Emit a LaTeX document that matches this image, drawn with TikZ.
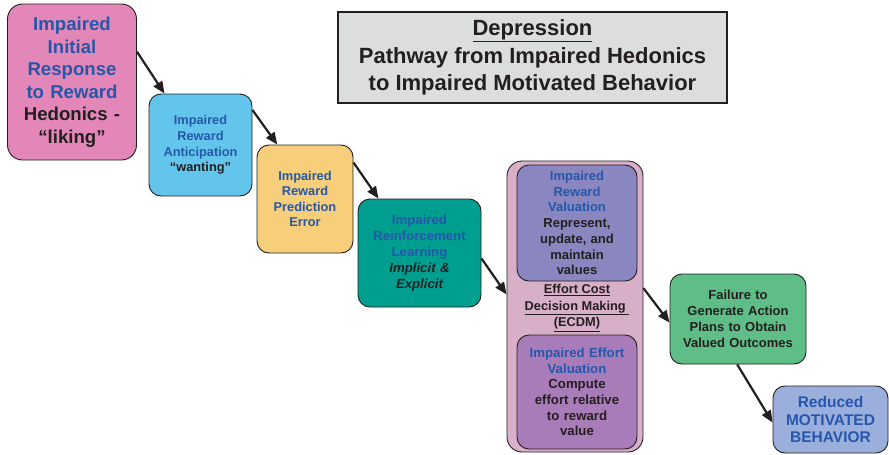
\documentclass[tikz,border=0pt]{standalone}
\usepackage{fontspec}
\setmainfont{Liberation Sans}
\usetikzlibrary{arrows.meta}

\definecolor{pinkbox}{RGB}{226,135,184}
\definecolor{skybox}{RGB}{100,197,236}
\definecolor{sandbox}{RGB}{247,206,122}
\definecolor{tealbox}{RGB}{0,158,143}
\definecolor{mauvebox}{RGB}{216,175,200}
\definecolor{lavbox}{RGB}{137,134,192}
\definecolor{plumbox}{RGB}{168,124,184}
\definecolor{greenbox}{RGB}{95,190,135}
\definecolor{periwinkle}{RGB}{155,175,220}
\definecolor{titlegray}{RGB}{220,221,222}
\definecolor{textblue}{RGB}{38,87,170}
\definecolor{darkline}{RGB}{35,31,32}

\begin{document}
\begin{tikzpicture}[x=1pt,y=-1pt,
  box/.style={draw=darkline, line width=0.9pt, rounded corners=12pt, align=center, inner sep=0pt, text=darkline},
  link/.style={draw=darkline, line width=2.2pt, -{Triangle[length=12pt,width=10pt]}}]
\useasboundingbox (0,0) rectangle (889,455);

% Nodes
\node[box, fill=pinkbox, rounded corners=15pt, minimum width=129pt, minimum height=156pt, text width=125pt,
  font=\bfseries\fontsize{18.6}{22.5}\selectfont] (hedonic) at (72,82)
  {\color{textblue}Impaired\\Initial\\Response\\to Reward\\\color{darkline}Hedonics -\\“liking”};
\node[box, fill=skybox, minimum width=103pt, minimum height=102pt, text width=99pt,
  font=\bfseries\fontsize{12.8}{15.7}\selectfont] (anticip) at (200.5,145)
  {\color{textblue}Impaired\\Reward\\Anticipation\\\color{darkline}“wanting”};
\node[box, fill=sandbox, minimum width=96pt, minimum height=108pt, text width=92pt,
  font=\bfseries\fontsize{12.8}{15.6}\selectfont] (predict) at (305,199)
  {\color{textblue}Impaired\\Reward\\Prediction\\Error};
\node[box, fill=tealbox, minimum width=123pt, minimum height=108pt, text width=119pt,
  font=\bfseries\fontsize{13.2}{15.8}\selectfont] (learn) at (419.5,253)
  {\color{textblue}Impaired\\Reinforcement\\Learning\\\color{darkline}\itshape Implicit \&\\Explicit};
\node[box, fill=mauvebox, rounded corners=15pt, minimum width=136pt, minimum height=291pt] (ecdm) at (575,306.5) {};
\node[box, fill=lavbox, minimum width=120pt, minimum height=116pt, text width=116pt,
  font=\bfseries\fontsize{13}{15.7}\selectfont] (rewval) at (577,223)
  {\color{textblue}Impaired\\Reward\\Valuation\\\color{darkline}Represent,\\update, and\\maintain\\values};
\node[align=center, text=darkline, font=\bfseries\fontsize{12.8}{16.5}\selectfont] (ecdmlabel) at (577,308)
  {\underline{Effort Cost}\\\underline{Decision Making }\\\underline{(ECDM)}};
\node[box, fill=plumbox, minimum width=120pt, minimum height=114pt, text width=116pt,
  font=\bfseries\fontsize{13.2}{15.7}\selectfont] (effval) at (577,392)
  {\color{textblue}Impaired Effort\\Valuation\\\color{darkline}Compute\\effort relative\\to reward\\value};
\node[box, fill=greenbox, minimum width=136pt, minimum height=90pt, text width=132pt,
  font=\bfseries\fontsize{13}{16}\selectfont] (plans) at (738,319)
  {Failure to\\Generate Action\\Plans to Obtain\\Valued Outcomes};
\node[box, fill=periwinkle, minimum width=115pt, minimum height=67pt, text width=111pt,
  font=\bfseries\fontsize{15.5}{17.7}\selectfont] (behav) at (830.5,419.5)
  {\color{textblue}Reduced\\MOTIVATED\\BEHAVIOR};

% Title
\node[draw=darkline, line width=2pt, fill=titlegray, minimum width=389pt, minimum height=91pt, align=center,
  text=darkline, font=\bfseries\fontsize{22}{27.5}\selectfont] (title) at (532.5,57.5)
  {\underline{Depression}\\Pathway from Impaired Hedonics\\to Impaired Motivated Behavior};

% Links
\draw[link] (hedonic.25) -- (anticip.125);
\draw[link] (anticip.34) -- (predict.117);
\draw[link] (predict.37) -- (learn.127);
\draw[link] (learn.-5) -- (ecdm.170);
\draw[link] (ecdm.15) -- (plans.-177);
\draw[link] (plans.-91) -- (behav.183);
\end{tikzpicture}
\end{document}
